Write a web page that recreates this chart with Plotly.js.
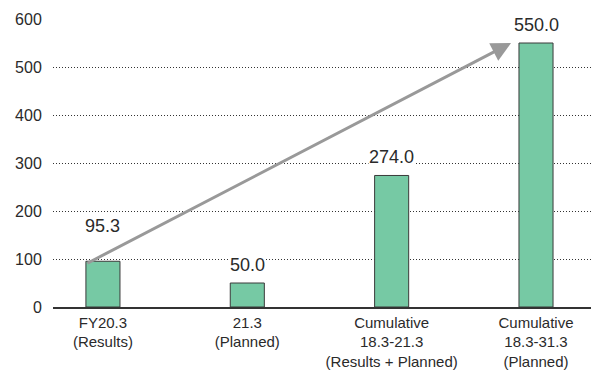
<!DOCTYPE html>
<html>
<head>
<meta charset="utf-8">
<script src="https://cdn.plot.ly/plotly-3.0.1.min.js"></script>
<style>html,body{margin:0;padding:0;background:#fff;}#chart{width:591px;height:370px;}</style>
</head>
<body>
<div id="chart"></div>
<script>
const categories = ["FY20.3<br>(Results)", "21.3<br>(Planned)", "Cumulative<br>18.3-21.3<br>(Results + Planned)", "Cumulative<br>18.3-31.3<br>(Planned)"];
const values = [95.3, 50.0, 274.0, 550.0];
const valueLabels = ["95.3", "50.0", "274.0", "550.0"];
const yTicks = [0, 100, 200, 300, 400, 500, 600];
// arrow: from the top-left of the first bar to just before the last bar
const arrowFrom = [-0.118, 89.6];
const arrowTo = [2.827, 550];

const xs = categories.map((c, i) => i);

const trace = {
  type: 'bar',
  x: xs,
  y: values,
  width: 0.236,
  marker: {color: '#76c9a4', line: {color: '#3a3a3a', width: 1}},
  hoverinfo: 'none'
};

const labelShift = [24, 7, 7, 7];
const annotations = values.map((v, i) => ({
  x: i, y: v, xref: 'x', yref: 'y',
  text: valueLabels[i], showarrow: false,
  yanchor: 'bottom', yshift: labelShift[i],
  font: {family: 'Liberation Sans, Arial, sans-serif', size: 18, color: '#2a2a2a'},
  bgcolor: '#ffffff', borderpad: 0
}));
annotations.unshift({
  x: arrowTo[0], y: arrowTo[1], xref: 'x', yref: 'y',
  ax: arrowFrom[0], ay: arrowFrom[1], axref: 'x', ayref: 'y',
  showarrow: true, arrowhead: 2, arrowsize: 1.3, arrowwidth: 3,
  arrowcolor: '#999999', text: '', standoff: 0, startstandoff: 0
});

const layout = {
  width: 591, height: 370,
  margin: {l: 53, r: 0, t: 19, b: 63},
  paper_bgcolor: '#ffffff', plot_bgcolor: '#ffffff',
  showlegend: false,
  font: {family: 'Liberation Sans, Arial, sans-serif', size: 15, color: '#2a2a2a'},
  xaxis: {
    range: [-0.346, 3.381],
    tickvals: xs, ticktext: categories,
    showgrid: false, zeroline: false,
    showline: true, linecolor: '#333333', linewidth: 1.5,
    ticks: 'outside', ticklen: 1, tickcolor: 'rgba(0,0,0,0)',
    tickfont: {size: 15, color: '#2a2a2a'},
    fixedrange: true
  },
  yaxis: {
    range: [0, 600],
    tickvals: yTicks,
    showgrid: true, gridcolor: '#333333', griddash: '1px,2px', gridwidth: 1,
    zeroline: false, showline: false,
    ticks: 'outside', ticklen: 7, tickcolor: 'rgba(0,0,0,0)',
    tickfont: {size: 16, color: '#2a2a2a'},
    fixedrange: true
  },
  annotations: annotations
};

Plotly.newPlot('chart', [trace], layout, {displayModeBar: false, staticPlot: true});
</script>
</body>
</html>
